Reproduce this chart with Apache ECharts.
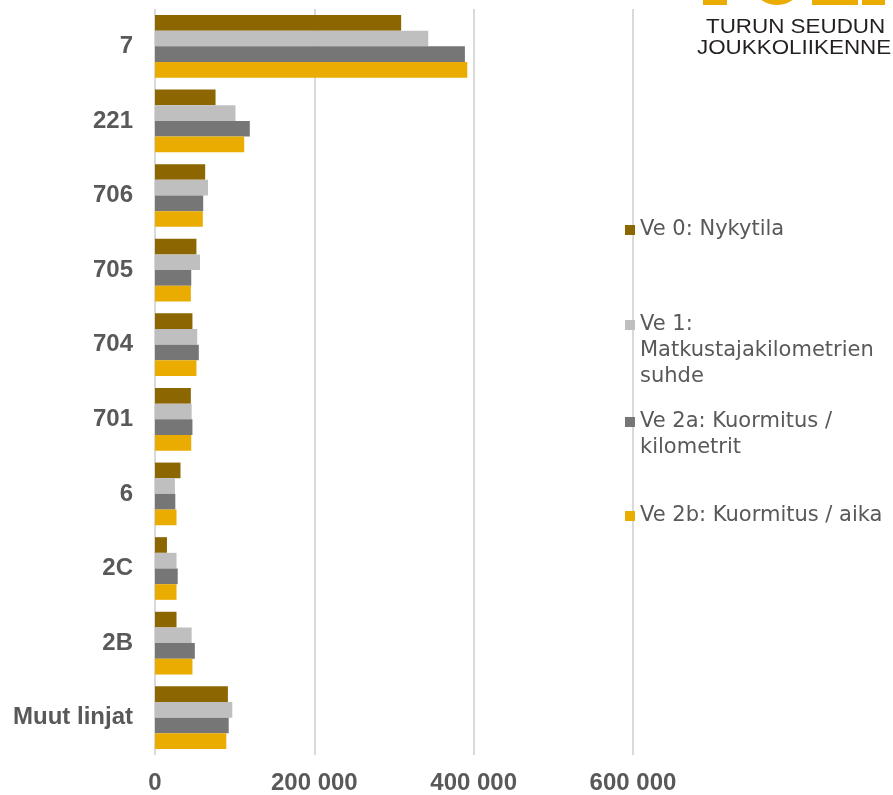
<!DOCTYPE html>
<html>
<head>
<meta charset="utf-8">
<script src="https://cdn.jsdelivr.net/npm/echarts@6/dist/echarts.min.js"></script>
<style>
  html, body { margin: 0; padding: 0; background: #fff; }
  #chart { width: 893px; height: 795px; }
</style>
</head>
<body>
<div id="chart"></div>
<script>
// Linjat (ylhäältä alas)
const categories = ['7', '221', '706', '705', '704', '701', '6', '2C', '2B', 'Muut linjat'];

// Sarjat
const seriesNames = ['Ve 0: Nykytila', 'Ve 1: Matkustajakilometrien suhde', 'Ve 2a: Kuormitus / kilometrit', 'Ve 2b: Kuormitus / aika'];
const ve0 = [309000, 76000, 63000, 52000, 47000, 45000, 32000, 15000, 27000, 91500];
const ve1 = [343000, 101000, 66500, 56500, 53000, 46000, 25000, 27000, 46000, 97000];
const ve2a = [389000, 119000, 60500, 45500, 55000, 47000, 25500, 28500, 50000, 92500];
const ve2b = [392000, 112000, 60000, 45000, 52000, 45500, 27000, 27000, 47000, 89500];

const xTicks = [0, 200000, 400000, 600000];

const colors = ['#8C6600', '#BFBFBF', '#767676', '#EAAC00'];
const font = "'Liberation Sans', Arial, sans-serif";
const legendFont = "'DejaVu Sans', sans-serif";
const textGray = '#595959';

function fmt(v) {
  return String(v).replace(/\B(?=(\d{3})+(?!\d))/g, ' ');
}

// Legenda: yksi komponentti per sarja. Ikoni on korkean laatikon yläosassa,
// jotta neliö osuu tekstin ensimmäiselle riville.
const lineH = 26;
const legendTops = [212, 307, 404, 498];
const legendLines = [1, 3, 2, 1];
function iconPath(lines) {
  const h = lines * lineH;
  return 'path://M0,0h0.01v0.01h-0.01z M0,8h10v10h-10z M9.99,' + (h - 0.01) + 'h0.01v0.01h-0.01z';
}
const legends = seriesNames.map((name, i) => ({
  data: [name],
  orient: 'vertical',
  left: 620,
  top: legendTops[i],
  icon: iconPath(legendLines[i]),
  itemWidth: 10,
  itemHeight: legendLines[i] * lineH,
  textStyle: {
    fontFamily: legendFont,
    fontSize: 21,
    color: textGray,
    lineHeight: lineH,
    width: 250,
    overflow: 'break'
  }
}));

const chart = echarts.init(document.getElementById('chart'));

chart.setOption({
  animation: false,
  backgroundColor: '#fff',
  grid: { left: 155, right: 260, top: 9, bottom: 39, containLabel: false },
  legend: legends,
  xAxis: {
    type: 'value',
    min: xTicks[0],
    max: xTicks[xTicks.length - 1],
    interval: 200000,
    axisLine: { show: false },
    axisTick: { show: false },
    splitLine: { lineStyle: { color: '#D9D9D9', width: 2 } },
    axisLabel: {
      margin: 16,
      fontFamily: font,
      fontSize: 24,
      fontWeight: 'bold',
      color: textGray,
      formatter: fmt
    }
  },
  yAxis: {
    type: 'category',
    inverse: true,
    data: categories,
    axisLine: { show: false },
    axisTick: { show: false },
    axisLabel: {
      margin: 22,
      fontFamily: font,
      fontSize: 24,
      fontWeight: 'bold',
      color: textGray
    }
  },
  series: [ve0, ve1, ve2a, ve2b].map((d, i) => ({
    name: seriesNames[i],
    type: 'bar',
    data: d,
    barGap: '0%',
    barCategoryGap: '16%',
    itemStyle: { color: colors[i] }
  })),
  graphic: [
    // FÖLI-logon alareuna (leikkautunut kuvan yläreunaan)
    { type: 'rect', shape: { x: 703, y: -20, width: 24, height: 25 }, style: { fill: '#EAAC00' } },
    { type: 'circle', shape: { cx: 777, cy: -22, r: 27 }, style: { fill: '#EAAC00' } },
    { type: 'rect', shape: { x: 812, y: -20, width: 46, height: 25 }, style: { fill: '#EAAC00' } },
    { type: 'rect', shape: { x: 862, y: -20, width: 23, height: 25 }, style: { fill: '#EAAC00' } },
    { type: 'text', x: 706, y: 17, scaleX: 1.12, style: { text: 'TURUN SEUDUN', font: '20px ' + font, fill: '#231F20' } },
    { type: 'text', x: 697, y: 38, scaleX: 1.12, style: { text: 'JOUKKOLIIKENNE', font: '20px ' + font, fill: '#231F20' } }
  ]
});
</script>
</body>
</html>
